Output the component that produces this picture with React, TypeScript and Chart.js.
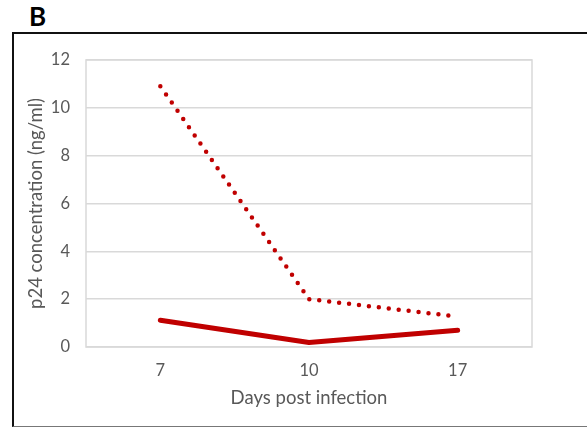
import React, { useEffect, useRef } from "react";
import { Chart, registerables } from "chart.js";

Chart.register(...registerables);

const days = ["7", "10", "17"];
const dottedSeries = [10.9, 2.0, 1.27];
const solidSeries = [1.12, 0.19, 0.7];
const yTicks = [0, 2, 4, 6, 8, 10, 12];

const RED = "#c00000";
const GRID = "#d9d9d9";
const TEXT = "#595959";
const FONT = "Lato, 'Open Sans', sans-serif";

// outline around the plotting area
const plotBox = {
  id: "plotBox",
  afterDraw(chart: any) {
    const { ctx, chartArea: a } = chart;
    ctx.save();
    ctx.strokeStyle = GRID;
    ctx.lineWidth = 1.5;
    ctx.strokeRect(a.left, a.top, a.right - a.left, a.bottom - a.top);
    ctx.restore();
  },
};

export default function App() {
  const ref = useRef<HTMLCanvasElement>(null);

  useEffect(() => {
    if (!ref.current) return;
    const chart = new Chart(ref.current, {
      type: "line",
      data: {
        labels: days,
        datasets: [
          {
            data: dottedSeries,
            borderColor: RED,
            borderWidth: 4.5,
            borderDash: [0, 10],
            borderCapStyle: "round",
            pointRadius: 0,
            tension: 0,
          },
          {
            data: solidSeries,
            borderColor: RED,
            borderWidth: 5,
            borderCapStyle: "round",
            borderJoinStyle: "round",
            pointRadius: 0,
            tension: 0,
          },
        ],
      },
      options: {
        animation: false,
        responsive: false,
        layout: { padding: { left: 0, top: 23, right: 55, bottom: 0 } },
        plugins: { legend: { display: false }, tooltip: { enabled: false } },
        scales: {
          x: {
            offset: true,
            grid: { display: false, drawTicks: false },
            border: { display: false },
            ticks: { color: TEXT, font: { family: FONT, size: 16.5 }, padding: 14 },
            title: {
              display: true,
              text: "Days post infection",
              color: TEXT,
              font: { family: FONT, size: 18.5 },
              padding: { top: 0, bottom: 15 },
            },
            afterFit(scale: any) {
              scale.height = 77;
            },
          },
          y: {
            min: 0,
            max: 12,
            afterBuildTicks(scale: any) {
              scale.ticks = yTicks.map((v) => ({ value: v }));
            },
            grid: { color: GRID, lineWidth: 1.5, drawTicks: false },
            border: { display: false },
            ticks: { color: TEXT, font: { family: FONT, size: 16.5 }, padding: 16 },
            title: {
              display: true,
              text: "p24 concentration (ng/ml)",
              color: TEXT,
              font: { family: FONT, size: 18.5 },
              padding: { top: 11, bottom: 0 },
            },
            afterFit(scale: any) {
              scale.width = 72;
            },
          },
        },
      },
      plugins: [plotBox],
    });
    return () => chart.destroy();
  }, []);

  return (
    <div style={{ position: "absolute", left: 0, top: 0, width: 587, height: 427, overflow: "hidden", background: "#fff" }}>
      <div
        style={{
          position: "absolute",
          left: 29,
          top: 3,
          fontFamily: FONT,
          fontWeight: 700,
          fontSize: 26,
          lineHeight: "26px",
          color: "#000",
        }}
      >
        B
      </div>
      <div
        style={{
          position: "absolute",
          left: 12,
          top: 32,
          width: 600,
          height: 392,
          borderLeft: "2px solid #111",
          borderTop: "2px solid #111",
          borderBottom: "1px solid #777",
        }}
      />
      <canvas
        ref={ref}
        width={573}
        height={390}
        style={{ position: "absolute", left: 14, top: 34, width: 573, height: 390 }}
      />
    </div>
  );
}
